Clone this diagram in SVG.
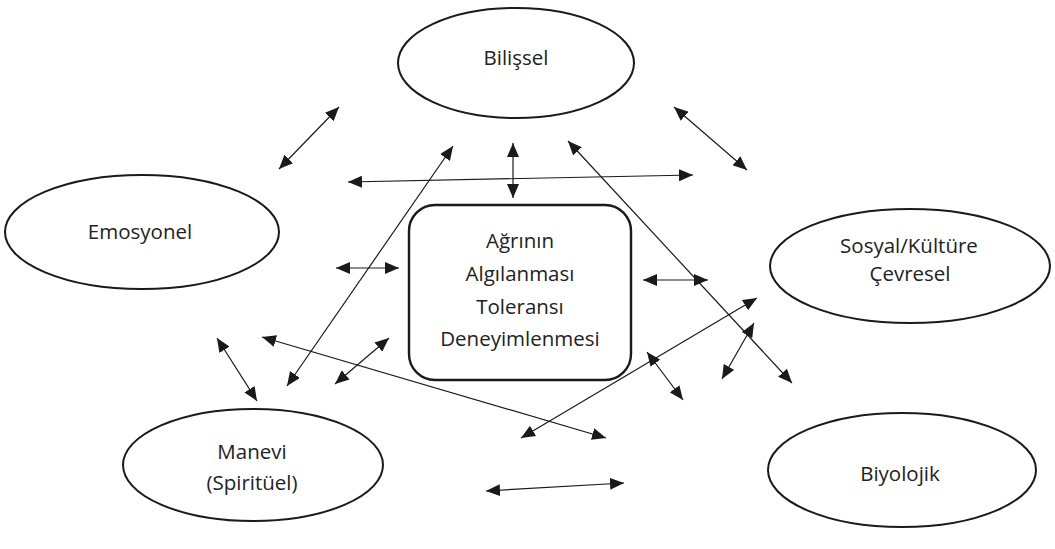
<svg xmlns="http://www.w3.org/2000/svg" width="1055" height="549" viewBox="0 0 1055 549">
  <style>
    .shape { fill: #ffffff; stroke: #1a1a1a; stroke-width: 2; }
    .box { stroke-width: 2.4; }
    .label { font-family: "Open Sans", "Liberation Sans", sans-serif; font-size: 20.5px; fill: #222222; text-anchor: middle; dominant-baseline: central; }
    .link { stroke: #1a1a1a; stroke-width: 1.2; fill: none; marker-start: url(#head); marker-end: url(#head); }
  </style>
  <defs>
    <marker id="head" viewBox="0 0 14 12" refX="14" refY="6" markerWidth="14" markerHeight="12" markerUnits="userSpaceOnUse" orient="auto-start-reverse">
      <path d="M0,0 L14,6 L0,12 z" fill="#1a1a1a"/>
    </marker>
  </defs>
  <rect width="1055" height="549" fill="#ffffff"/>

  <g id="bilissel">
    <ellipse class="shape" cx="516" cy="63" rx="118" ry="55"/>
    <text class="label" x="516" y="57">Bilişsel</text>
  </g>
  <g id="emosyonel">
    <ellipse class="shape" cx="142" cy="232" rx="137" ry="57"/>
    <text class="label" x="140" y="231">Emosyonel</text>
  </g>
  <g id="sosyal">
    <ellipse class="shape" cx="910" cy="266" rx="140" ry="57"/>
    <text class="label" x="909" y="245">Sosyal/Kültüre</text>
    <text class="label" x="910" y="273">Çevresel</text>
  </g>
  <g id="manevi">
    <ellipse class="shape" cx="253" cy="465" rx="130" ry="56"/>
    <text class="label" x="252" y="451">Manevi</text>
    <text class="label" x="252" y="482">(Spiritüel)</text>
  </g>
  <g id="biyolojik">
    <ellipse class="shape" cx="902" cy="470" rx="134" ry="57"/>
    <text class="label" x="900" y="473">Biyolojik</text>
  </g>
  <g id="agri">
    <rect class="shape box" x="409" y="205" width="222" height="175" rx="26" ry="26"/>
    <text class="label" x="520" y="240">Ağrının</text>
    <text class="label" x="520" y="273">Algılanması</text>
    <text class="label" x="520" y="306">Toleransı</text>
    <text class="label" x="520" y="338">Deneyimlenmesi</text>
  </g>

  <g id="connectors">
    <line class="link" x1="279" y1="169" x2="339" y2="107"/>
    <line class="link" x1="348" y1="182" x2="693" y2="175"/>
    <line class="link" x1="674" y1="107" x2="747" y2="170"/>
    <line class="link" x1="513" y1="143" x2="513" y2="198"/>
    <line class="link" x1="287" y1="386" x2="453" y2="146"/>
    <line class="link" x1="568" y1="141" x2="792" y2="383"/>
    <line class="link" x1="336" y1="268" x2="399" y2="268"/>
    <line class="link" x1="643" y1="280" x2="708" y2="280"/>
    <line class="link" x1="217" y1="338" x2="257" y2="401"/>
    <line class="link" x1="262" y1="337" x2="606" y2="438"/>
    <line class="link" x1="335" y1="384" x2="389" y2="338"/>
    <line class="link" x1="521" y1="438" x2="757" y2="298"/>
    <line class="link" x1="647" y1="352" x2="683" y2="400"/>
    <line class="link" x1="722" y1="379" x2="754" y2="323"/>
    <line class="link" x1="486" y1="491" x2="624" y2="483"/>
  </g>
</svg>
